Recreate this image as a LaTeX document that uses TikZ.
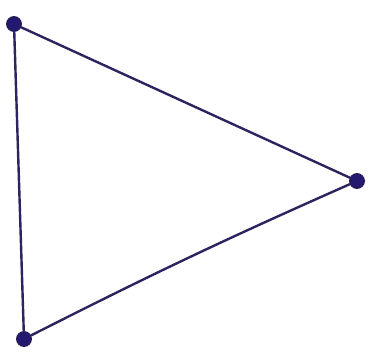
\documentclass[tikz,border=0pt]{standalone}
\definecolor{ink}{RGB}{45,35,95}
\definecolor{dotc}{RGB}{35,25,110}
\begin{document}
\begin{tikzpicture}[x=1pt,y=-1pt,
  edge/.style={draw=ink,line width=2.4pt,line cap=round},
  vtx/.style={circle,fill=dotc,draw=ink!80!black,line width=0.8pt,minimum size=15pt,inner sep=0pt}]
\useasboundingbox (0,0) rectangle (381,364);
\node[vtx] (a) at (14,24) {};
\node[vtx] (b) at (357,181) {};
\node[vtx] (c) at (24,339) {};
\draw[edge] (a) -- (b);
\draw[edge] (b) to[bend right=1.5] (c);
\draw[edge] (a) -- (c);
\end{tikzpicture}
\end{document}
